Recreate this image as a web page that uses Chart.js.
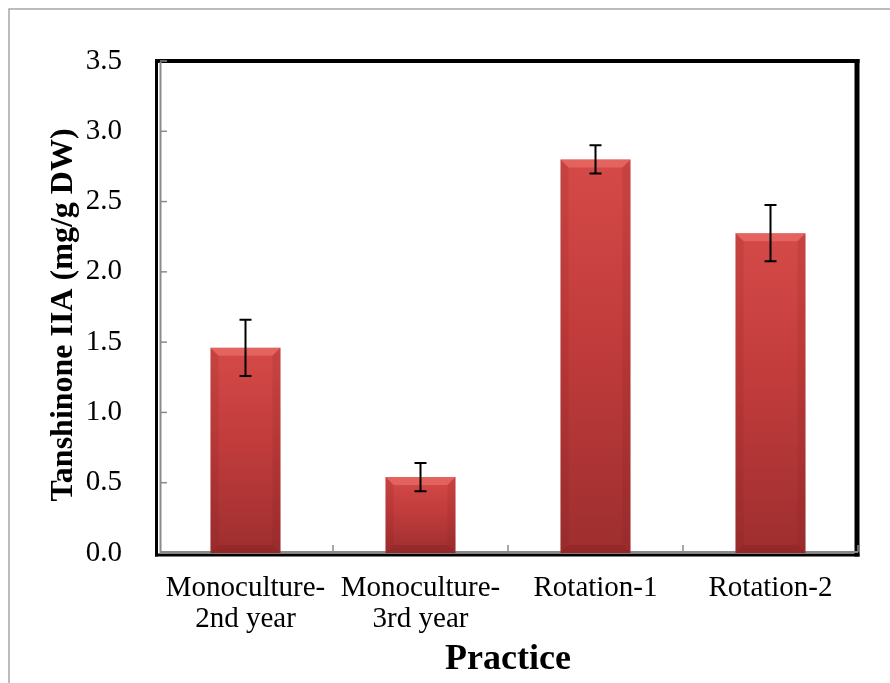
<!DOCTYPE html>
<html>
<head>
<meta charset="utf-8">
<script src="https://cdn.jsdelivr.net/npm/chart.js@4.4.1/dist/chart.umd.min.js"></script>
<style>
  html, body { margin: 0; padding: 0; background: #ffffff; }
  #wrap { width: 890px; height: 683px; position: relative; }
</style>
</head>
<body>
<div id="wrap"><canvas id="c" width="890" height="683"></canvas></div>
<script>
// ---- data ----
const categories = [["Monoculture-", "2nd year"], ["Monoculture-", "3rd year"], "Rotation-1", "Rotation-2"];
const values = [1.46, 0.54, 2.80, 2.275];
const errors = [0.20, 0.10, 0.10, 0.20];
const yTitle = "Tanshinone IIA (mg/g DW)";
const xTitle = "Practice";
const yMin = 0, yMax = 3.5, yStep = 0.5;

const SERIF = "'Liberation Serif', 'Times New Roman', serif";

function barGradient(ctx) {
  const chart = ctx.chart;
  const ys = chart.scales && chart.scales.y;
  if (!ys || ctx.raw === undefined) return 'rgb(192,60,60)';
  const top = ys.getPixelForValue(ctx.raw);
  const bot = ys.getPixelForValue(0);
  if (!isFinite(top) || !isFinite(bot) || top === bot) return 'rgb(192,60,60)';
  const g = chart.ctx.createLinearGradient(0, top, 0, bot);
  g.addColorStop(0, 'rgb(212,74,72)');
  g.addColorStop(0.45, 'rgb(194,60,60)');
  g.addColorStop(1, 'rgb(158,46,47)');
  return g;
}

const framePlugin = {
  id: 'frame',
  beforeDraw(chart) {
    const c = chart.ctx;
    c.save();
    c.fillStyle = '#ffffff';
    c.fillRect(0, 0, chart.width, chart.height);
    c.strokeStyle = '#a6a6a6';
    c.lineWidth = 1.5;
    c.beginPath();
    c.moveTo(9, chart.height);
    c.lineTo(9, 9);
    c.lineTo(chart.width, 9);
    c.stroke();
    c.restore();
  },
  beforeDatasetsDraw(chart) {
    const c = chart.ctx;
    const a = chart.chartArea;
    const xs = chart.scales.x, ys = chart.scales.y;
    c.save();
    c.strokeStyle = '#000000';
    c.lineCap = 'butt';
    c.lineWidth = 4;
    c.beginPath(); c.moveTo(a.left - 3, a.top); c.lineTo(a.right + 1.5, a.top); c.stroke();
    c.lineWidth = 5;
    c.beginPath(); c.moveTo(a.right - 1, a.top - 2); c.lineTo(a.right - 1, a.bottom + 3.5); c.stroke();
    c.lineWidth = 3;
    c.beginPath(); c.moveTo(a.left - 1.5, a.top - 2); c.lineTo(a.left - 1.5, a.bottom + 3.5); c.stroke();
    c.beginPath(); c.moveTo(a.left - 3, a.bottom + 2); c.lineTo(a.right + 1.5, a.bottom + 2); c.stroke();
    c.strokeStyle = '#8a8a8a';
    c.lineWidth = 2;
    c.beginPath(); c.moveTo(a.left + 2.5, a.top + 1); c.lineTo(a.left + 2.5, a.bottom - 1); c.lineTo(a.right, a.bottom - 1); c.stroke();
    c.lineWidth = 1.5;
    ys.ticks.forEach(t => {
      const py = ys.getPixelForValue(t.value);
      c.beginPath(); c.moveTo(a.left + 2, py); c.lineTo(a.left + 9, py); c.stroke();
    });
    const n = categories.length;
    const step = xs.getPixelForValue(1) - xs.getPixelForValue(0);
    for (let i = 1; i <= n; i++) {
      const px = xs.getPixelForValue(i - 1) + step / 2;
      c.beginPath(); c.moveTo(px, a.bottom - 1); c.lineTo(px, a.bottom - 8); c.stroke();
    }
    c.restore();
  },
  afterDatasetsDraw(chart) {
    const c = chart.ctx;
    const ys = chart.scales.y;
    const meta = chart.getDatasetMeta(0);
    c.save();
    meta.data.forEach(bar => {
      const w = bar.width, l = bar.x - w / 2, r = bar.x + w / 2, t = bar.y, b = bar.base;
      const bv = 8;
      c.fillStyle = 'rgba(240,120,115,0.55)';
      c.beginPath(); c.moveTo(l, t); c.lineTo(r, t); c.lineTo(r - bv, t + bv); c.lineTo(l + bv, t + bv); c.closePath(); c.fill();
      c.fillStyle = 'rgba(120,25,25,0.14)';
      c.beginPath(); c.moveTo(l, t); c.lineTo(l + bv, t + bv); c.lineTo(l + bv, b - bv); c.lineTo(l, b); c.closePath(); c.fill();
      c.beginPath(); c.moveTo(r, t); c.lineTo(r - bv, t + bv); c.lineTo(r - bv, b - bv); c.lineTo(r, b); c.closePath(); c.fill();
      c.fillStyle = 'rgba(110,20,20,0.22)';
      c.beginPath(); c.moveTo(l, b); c.lineTo(l + bv, b - bv); c.lineTo(r - bv, b - bv); c.lineTo(r, b); c.closePath(); c.fill();
    });
    c.strokeStyle = '#000000';
    c.lineWidth = 2;
    meta.data.forEach((bar, i) => {
      const v = values[i], e = errors[i];
      const yHi = ys.getPixelForValue(v + e), yLo = ys.getPixelForValue(v - e);
      const x = bar.x, cap = 6;
      c.beginPath();
      c.moveTo(x, yHi); c.lineTo(x, yLo);
      c.moveTo(x - cap, yHi); c.lineTo(x + cap, yHi);
      c.moveTo(x - cap, yLo); c.lineTo(x + cap, yLo);
      c.stroke();
    });
    c.restore();
  },
  afterDraw(chart) {
    const c = chart.ctx;
    c.save();
    c.fillStyle = '#000000';
    c.font = "bold 32px " + SERIF;
    c.textAlign = 'center';
    c.textBaseline = 'middle';
    c.translate(64, 315);
    c.rotate(-Math.PI / 2);
    c.fillText(yTitle, 0, 0);
    c.restore();
  }
};

new Chart(document.getElementById('c'), {
  type: 'bar',
  data: {
    labels: categories,
    datasets: [{
      data: values,
      backgroundColor: barGradient,
      borderWidth: 0,
      barPercentage: 0.4,
      categoryPercentage: 1.0
    }]
  },
  options: {
    responsive: false,
    animation: false,
    devicePixelRatio: 1,
    layout: { padding: { top: 61, right: 32, bottom: 0, left: 0 } },
    plugins: { legend: { display: false }, tooltip: { enabled: false }, title: { display: false } },
    scales: {
      x: {
        grid: { display: false, drawTicks: false },
        border: { display: false },
        ticks: {
          color: '#000000',
          font: { family: SERIF, size: 29, lineHeight: 1.1 },
          padding: 19,
          maxRotation: 0,
          autoSkip: false
        },
        title: {
          display: true,
          text: xTitle,
          color: '#000000',
          font: { family: SERIF, size: 36, weight: 'bold', lineHeight: 1.2 },
          padding: { top: 0, bottom: 2 }
        },
        afterFit(scale) { scale.height = 130; }
      },
      y: {
        min: yMin,
        max: yMax,
        grid: { display: false, drawTicks: false },
        border: { display: false },
        ticks: {
          stepSize: yStep,
          color: '#000000',
          font: { family: SERIF, size: 29 },
          padding: 36,
          callback: v => Number(v).toFixed(1)
        },
        afterFit(scale) { scale.width = 158; }
      }
    }
  },
  plugins: [framePlugin]
});
</script>
</body>
</html>
